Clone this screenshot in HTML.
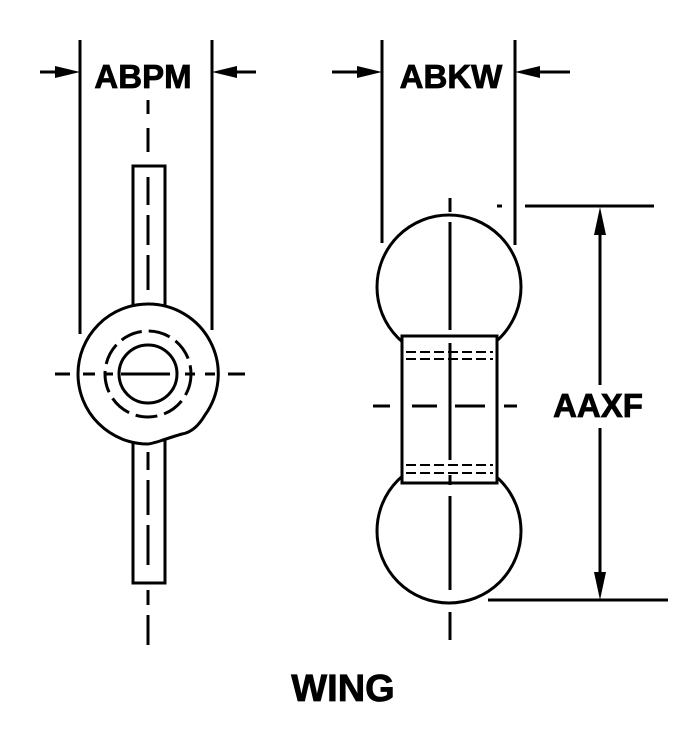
<!DOCTYPE html>
<html><head><style>body{margin:0;background:#fff}svg{display:block}</style></head><body>
<svg width="699" height="737" viewBox="0 0 699 737" xmlns="http://www.w3.org/2000/svg">
<g stroke="#000" stroke-width="3" fill="none">
<!-- left view -->
<line x1="80" y1="40" x2="80" y2="334"/>
<line x1="212" y1="40" x2="212" y2="330"/>
<line x1="40" y1="72" x2="60" y2="72"/>
<line x1="235" y1="72" x2="256" y2="72"/>
<rect x="133" y="166" width="32" height="142"/>
<rect x="133" y="440" width="32" height="143"/>
<path d="M148,304 A70,70 0 0,1 205,415 Q195,432 182,434 Q175,436 160,441 Q150,444 148,444 A70,70 0 0,1 148,304 Z" fill="#fff"/>
<circle cx="148" cy="374" r="43" stroke-dasharray="22,7"/>
<circle cx="148" cy="374" r="29"/>
<path d="M55,374H70M83,374H95M105,374H113M121,374H170M185,374H195M205,374H215M228,374H245"/>
<path d="M148,100V114M148,128V152M148,177V205M148,215V245M148,255V290"/>
<path d="M148,452V470M148,480V515M148,525V565M148,590V605M148,615V645"/>
<!-- right view -->
<line x1="382" y1="40" x2="382" y2="243"/>
<line x1="515" y1="40" x2="515" y2="245"/>
<line x1="332" y1="72" x2="360" y2="72"/>
<line x1="540" y1="72" x2="570" y2="72"/>
<circle cx="449" cy="287" r="72"/>
<circle cx="449" cy="531" r="72"/>
<rect x="402" y="336" width="95" height="147" fill="#fff"/>
<path d="M406,352H493M406,359H493M406,465H493M406,473H493" stroke-width="2" stroke-dasharray="10,4"/>
<path d="M450,198V212M450,222V330M450,343V460M450,475V485M450,496V590M450,612V640"/>
<path d="M373,406H390M412,406H437M455,406H485M504,406H517"/>
<line x1="497" y1="206" x2="502" y2="206"/>
<line x1="525" y1="206" x2="654" y2="206"/>
<line x1="488" y1="600" x2="668" y2="600"/>
<line x1="600" y1="225" x2="600" y2="385"/>
<line x1="600" y1="428" x2="600" y2="582"/>
</g>
<g fill="#000">
<polygon points="80,72 55,66 55,78"/>
<polygon points="212,72 237,66 237,78"/>
<polygon points="382,72 357,66 357,78"/>
<polygon points="515,72 540,66 540,78"/>
<polygon points="600,207 594,235 606,235"/>
<polygon points="600,600 594,572 606,572"/>
</g>
<g font-family="Liberation Sans, sans-serif" font-weight="bold" fill="#000" text-anchor="middle" stroke="#000" stroke-width="0.8">
<text x="143" y="88" font-size="33">ABPM</text>
<text x="451" y="88" font-size="33">ABKW</text>
<text x="598" y="417" font-size="33">AAXF</text>
<text x="343" y="701" font-size="38">WING</text>
</g>
</svg>
</body></html>
